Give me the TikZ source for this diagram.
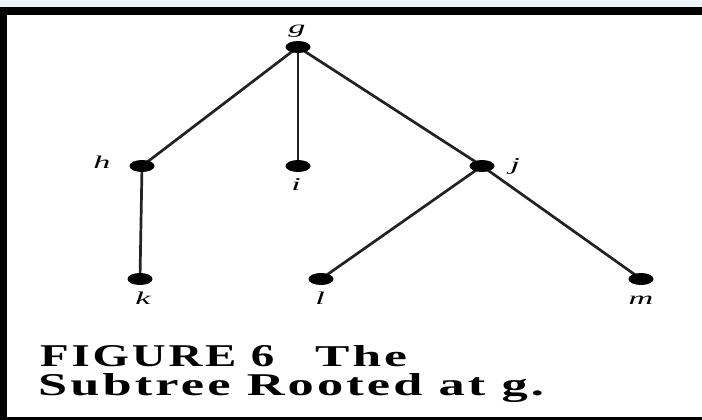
\documentclass[tikz,border=0pt]{standalone}
\usepackage{fontspec}
\usepackage{graphicx}
\setmainfont{Liberation Serif}
\usetikzlibrary{shapes.geometric,backgrounds}

\definecolor{stripblue}{HTML}{EEF3F8}
\definecolor{edgeink}{HTML}{222222}

% wide italic vertex names
\newcommand{\vname}[1]{\scalebox{1.9}[1]{\fontsize{18}{18}\selectfont\itshape #1}}
% wide, slightly spaced bold caption text
\newcommand{\capword}[1]{\textbf{\addfontfeature{LetterSpace=6}#1}}

\tikzset{
  vertex/.style={ellipse, fill=black, draw=none, minimum width=25pt,
                 minimum height=12pt, inner sep=0pt},
  vlabel/.style={inner sep=0pt, text=black},
  treeedge/.style={draw=edgeink, line width=2.7pt},
  caption/.style={anchor=base west, inner sep=0pt, text=black}
}

\begin{document}
\begin{tikzpicture}[x=1pt,y=-1pt]
\useasboundingbox (0,0) rectangle (702,420);

% vertices of the subtree
\node[vertex] (g) at (298,47) {};
\node[vertex] (h) at (142,166) {};
\node[vertex] (i) at (298,166) {};
\node[vertex] (j) at (482,166) {};
\node[vertex] (k) at (140,279) {};
\node[vertex] (l) at (321,279) {};
\node[vertex] (m) at (641,279) {};

% vertex names
\node[vlabel] (lg) at (297,31) {\vname{g}};
\node[vlabel] (lh) at (102,162) {\vname{h}};
\node[vlabel] (li) at (296,185) {\vname{i}};
\node[vlabel] (lj) at (515,166) {\vname{j}};
\node[vlabel] (lk) at (143,298) {\vname{k}};
\node[vlabel] (ll) at (320,298) {\vname{l}};
\node[vlabel] (lm) at (641,300) {\vname{m}};

% caption
\node[caption] (cap1) at (40,366)
  {\resizebox{237pt}{21pt}{\capword{FIGURE 6}}};
\node[caption] (cap2) at (315,366)
  {\resizebox{95pt}{21pt}{\capword{The}}};
\node[caption] (cap3) at (38,395)
  {\resizebox{509pt}{22pt}{\capword{Subtree Rooted at g.}}};

\begin{scope}[on background layer]
  % page frame
  \fill[stripblue] (0,0) rectangle (702,7);
  \fill[white] (0,7) rectangle (702,420);
  \fill[black] (0,7) rectangle (702,15);
  \fill[black] (0,7) rectangle (7,420);
  \fill[black] (0,417) rectangle (702,420);
  % edges
  \draw[treeedge] (g.center) -- (h.center);
  \draw[treeedge] (g.center) -- (i.center);
  \draw[treeedge] (g.center) -- (j.center);
  \draw[treeedge] (h.center) -- (k.center);
  \draw[treeedge] (j.center) -- (l.center);
  \draw[treeedge] (j.center) -- (m.center);
\end{scope}
\end{tikzpicture}
\end{document}
